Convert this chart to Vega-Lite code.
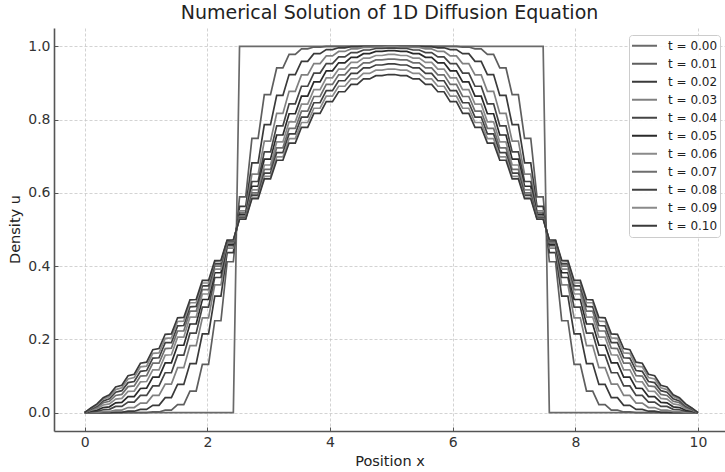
{
"$schema":"https://vega.github.io/schema/vega-lite/v6.json",
"width":671,"height":403,
"autosize":{"type":"none"},
"padding":{"left":54,"top":28,"right":0,"bottom":41},
"title":{"text":"Numerical Solution of 1D Diffusion Equation","anchor":"middle","fontSize":19,"font":"DejaVu Sans","fontWeight":"normal","color":"#222222","offset":5},
"data":{"values":[
{"x":0,"t00":0,"t01":0,"t02":0,"t03":0,"t04":0,"t05":0,"t06":0,"t07":0,"t08":0,"t09":0,"t10":0},
{"x":0.101,"t00":0,"t01":0,"t02":0,"t03":0.001,"t04":0.003,"t05":0.005,"t06":0.007,"t07":0.009,"t08":0.010,"t09":0.012,"t10":0.013},
{"x":0.202,"t00":0,"t01":0,"t02":0,"t03":0.001,"t04":0.004,"t05":0.007,"t06":0.011,"t07":0.015,"t08":0.018,"t09":0.021,"t10":0.024},
{"x":0.303,"t00":0,"t01":0,"t02":0,"t03":0.003,"t04":0.008,"t05":0.014,"t06":0.021,"t07":0.027,"t08":0.032,"t09":0.037,"t10":0.041},
{"x":0.404,"t00":0,"t01":0,"t02":0,"t03":0.003,"t04":0.009,"t05":0.016,"t06":0.024,"t07":0.031,"t08":0.038,"t09":0.044,"t10":0.049},
{"x":0.505,"t00":0,"t01":0,"t02":0.001,"t03":0.007,"t04":0.017,"t05":0.027,"t06":0.037,"t07":0.047,"t08":0.056,"t09":0.063,"t10":0.070},
{"x":0.606,"t00":0,"t01":0,"t02":0.001,"t03":0.007,"t04":0.017,"t05":0.028,"t06":0.039,"t07":0.050,"t08":0.060,"t09":0.068,"t10":0.075},
{"x":0.707,"t00":0,"t01":0,"t02":0.004,"t03":0.014,"t04":0.029,"t05":0.044,"t06":0.058,"t07":0.071,"t08":0.082,"t09":0.092,"t10":0.101},
{"x":0.808,"t00":0,"t01":0,"t02":0.004,"t03":0.014,"t04":0.029,"t05":0.044,"t06":0.059,"t07":0.073,"t08":0.085,"t09":0.096,"t10":0.105},
{"x":0.909,"t00":0,"t01":0,"t02":0.009,"t03":0.026,"t04":0.047,"t05":0.066,"t06":0.084,"t07":0.100,"t08":0.113,"t09":0.125,"t10":0.135},
{"x":1.010,"t00":0,"t01":0,"t02":0.009,"t03":0.026,"t04":0.047,"t05":0.067,"t06":0.085,"t07":0.101,"t08":0.115,"t09":0.127,"t10":0.138},
{"x":1.111,"t00":0,"t01":0.002,"t02":0.020,"t03":0.047,"t04":0.073,"t05":0.097,"t06":0.117,"t07":0.135,"t08":0.149,"t09":0.162,"t10":0.172},
{"x":1.212,"t00":0,"t01":0.002,"t02":0.020,"t03":0.047,"t04":0.073,"t05":0.097,"t06":0.117,"t07":0.135,"t08":0.150,"t09":0.163,"t10":0.175},
{"x":1.313,"t00":0,"t01":0.007,"t02":0.041,"t03":0.078,"t04":0.109,"t05":0.136,"t06":0.157,"t07":0.175,"t08":0.191,"t09":0.203,"t10":0.214},
{"x":1.414,"t00":0,"t01":0.007,"t02":0.041,"t03":0.078,"t04":0.109,"t05":0.136,"t06":0.158,"t07":0.176,"t08":0.191,"t09":0.204,"t10":0.215},
{"x":1.515,"t00":0,"t01":0.022,"t02":0.077,"t03":0.123,"t04":0.157,"t05":0.184,"t06":0.206,"t07":0.223,"t08":0.237,"t09":0.249,"t10":0.259},
{"x":1.616,"t00":0,"t01":0.022,"t02":0.077,"t03":0.123,"t04":0.157,"t05":0.184,"t06":0.206,"t07":0.223,"t08":0.238,"t09":0.250,"t10":0.260},
{"x":1.717,"t00":0,"t01":0.059,"t02":0.134,"t03":0.183,"t04":0.217,"t05":0.242,"t06":0.261,"t07":0.277,"t08":0.289,"t09":0.300,"t10":0.308},
{"x":1.818,"t00":0,"t01":0.059,"t02":0.134,"t03":0.183,"t04":0.217,"t05":0.242,"t06":0.261,"t07":0.277,"t08":0.290,"t09":0.300,"t10":0.309},
{"x":1.919,"t00":0,"t01":0.132,"t02":0.215,"t03":0.259,"t04":0.288,"t05":0.309,"t06":0.324,"t07":0.336,"t08":0.346,"t09":0.354,"t10":0.361},
{"x":2.020,"t00":0,"t01":0.132,"t02":0.215,"t03":0.259,"t04":0.288,"t05":0.309,"t06":0.324,"t07":0.336,"t08":0.346,"t09":0.354,"t10":0.361},
{"x":2.121,"t00":0,"t01":0.251,"t02":0.318,"t03":0.349,"t04":0.369,"t05":0.382,"t06":0.392,"t07":0.400,"t08":0.406,"t09":0.412,"t10":0.415},
{"x":2.222,"t00":0,"t01":0.251,"t02":0.318,"t03":0.349,"t04":0.369,"t05":0.382,"t06":0.392,"t07":0.400,"t08":0.406,"t09":0.412,"t10":0.416},
{"x":2.323,"t00":0,"t01":0.412,"t02":0.437,"t03":0.449,"t04":0.456,"t05":0.460,"t06":0.464,"t07":0.466,"t08":0.469,"t09":0.470,"t10":0.471},
{"x":2.424,"t00":0,"t01":0.412,"t02":0.437,"t03":0.449,"t04":0.456,"t05":0.460,"t06":0.464,"t07":0.466,"t08":0.469,"t09":0.470,"t10":0.472},
{"x":2.525,"t00":1,"t01":0.589,"t02":0.563,"t03":0.551,"t04":0.545,"t05":0.540,"t06":0.536,"t07":0.534,"t08":0.532,"t09":0.530,"t10":0.528},
{"x":2.626,"t00":1,"t01":0.589,"t02":0.563,"t03":0.551,"t04":0.545,"t05":0.540,"t06":0.536,"t07":0.534,"t08":0.532,"t09":0.530,"t10":0.528},
{"x":2.727,"t00":1,"t01":0.749,"t02":0.682,"t03":0.651,"t04":0.631,"t05":0.618,"t06":0.608,"t07":0.600,"t08":0.594,"t09":0.588,"t10":0.584},
{"x":2.828,"t00":1,"t01":0.749,"t02":0.682,"t03":0.651,"t04":0.631,"t05":0.618,"t06":0.608,"t07":0.600,"t08":0.594,"t09":0.588,"t10":0.584},
{"x":2.929,"t00":1,"t01":0.868,"t02":0.786,"t03":0.741,"t04":0.712,"t05":0.692,"t06":0.676,"t07":0.664,"t08":0.654,"t09":0.645,"t10":0.638},
{"x":3.030,"t00":1,"t01":0.868,"t02":0.786,"t03":0.741,"t04":0.712,"t05":0.692,"t06":0.676,"t07":0.664,"t08":0.654,"t09":0.645,"t10":0.638},
{"x":3.131,"t00":1,"t01":0.941,"t02":0.866,"t03":0.817,"t04":0.783,"t05":0.758,"t06":0.739,"t07":0.723,"t08":0.710,"t09":0.698,"t10":0.689},
{"x":3.232,"t00":1,"t01":0.941,"t02":0.866,"t03":0.817,"t04":0.783,"t05":0.758,"t06":0.739,"t07":0.723,"t08":0.710,"t09":0.698,"t10":0.689},
{"x":3.333,"t00":1,"t01":0.978,"t02":0.923,"t03":0.877,"t04":0.843,"t05":0.816,"t06":0.794,"t07":0.776,"t08":0.761,"t09":0.748,"t10":0.736},
{"x":3.434,"t00":1,"t01":0.978,"t02":0.923,"t03":0.877,"t04":0.843,"t05":0.816,"t06":0.794,"t07":0.776,"t08":0.761,"t09":0.748,"t10":0.736},
{"x":3.535,"t00":1,"t01":0.993,"t02":0.959,"t03":0.922,"t04":0.891,"t05":0.864,"t06":0.842,"t07":0.823,"t08":0.807,"t09":0.792,"t10":0.779},
{"x":3.636,"t00":1,"t01":0.993,"t02":0.959,"t03":0.922,"t04":0.891,"t05":0.864,"t06":0.842,"t07":0.823,"t08":0.807,"t09":0.792,"t10":0.779},
{"x":3.737,"t00":1,"t01":0.998,"t02":0.980,"t03":0.953,"t04":0.927,"t05":0.903,"t06":0.882,"t07":0.863,"t08":0.846,"t09":0.831,"t10":0.817},
{"x":3.838,"t00":1,"t01":0.998,"t02":0.980,"t03":0.953,"t04":0.927,"t05":0.903,"t06":0.882,"t07":0.863,"t08":0.846,"t09":0.831,"t10":0.817},
{"x":3.939,"t00":1,"t01":1,"t02":0.991,"t03":0.974,"t04":0.953,"t05":0.933,"t06":0.914,"t07":0.896,"t08":0.879,"t09":0.864,"t10":0.849},
{"x":4.040,"t00":1,"t01":1,"t02":0.991,"t03":0.974,"t04":0.953,"t05":0.933,"t06":0.914,"t07":0.896,"t08":0.879,"t09":0.864,"t10":0.849},
{"x":4.141,"t00":1,"t01":1,"t02":0.996,"t03":0.986,"t04":0.971,"t05":0.955,"t06":0.938,"t07":0.922,"t08":0.906,"t09":0.891,"t10":0.876},
{"x":4.242,"t00":1,"t01":1,"t02":0.996,"t03":0.986,"t04":0.971,"t05":0.955,"t06":0.938,"t07":0.922,"t08":0.906,"t09":0.891,"t10":0.876},
{"x":4.343,"t00":1,"t01":1,"t02":0.999,"t03":0.993,"t04":0.983,"t05":0.970,"t06":0.956,"t07":0.941,"t08":0.926,"t09":0.911,"t10":0.896},
{"x":4.444,"t00":1,"t01":1,"t02":0.999,"t03":0.993,"t04":0.983,"t05":0.970,"t06":0.956,"t07":0.941,"t08":0.926,"t09":0.911,"t10":0.896},
{"x":4.545,"t00":1,"t01":1,"t02":1,"t03":0.997,"t04":0.990,"t05":0.980,"t06":0.968,"t07":0.955,"t08":0.941,"t09":0.926,"t10":0.911},
{"x":4.646,"t00":1,"t01":1,"t02":1,"t03":0.997,"t04":0.990,"t05":0.980,"t06":0.968,"t07":0.955,"t08":0.941,"t09":0.926,"t10":0.911},
{"x":4.747,"t00":1,"t01":1,"t02":1,"t03":0.998,"t04":0.994,"t05":0.986,"t06":0.975,"t07":0.963,"t08":0.949,"t09":0.935,"t10":0.920},
{"x":4.848,"t00":1,"t01":1,"t02":1,"t03":0.998,"t04":0.994,"t05":0.986,"t06":0.975,"t07":0.963,"t08":0.949,"t09":0.935,"t10":0.920},
{"x":4.949,"t00":1,"t01":1,"t02":1,"t03":0.999,"t04":0.995,"t05":0.988,"t06":0.978,"t07":0.965,"t08":0.952,"t09":0.938,"t10":0.923},
{"x":5.051,"t00":1,"t01":1,"t02":1,"t03":0.999,"t04":0.995,"t05":0.988,"t06":0.978,"t07":0.965,"t08":0.952,"t09":0.938,"t10":0.923},
{"x":5.152,"t00":1,"t01":1,"t02":1,"t03":0.998,"t04":0.994,"t05":0.986,"t06":0.975,"t07":0.963,"t08":0.949,"t09":0.935,"t10":0.920},
{"x":5.253,"t00":1,"t01":1,"t02":1,"t03":0.998,"t04":0.994,"t05":0.986,"t06":0.975,"t07":0.963,"t08":0.949,"t09":0.935,"t10":0.920},
{"x":5.354,"t00":1,"t01":1,"t02":1,"t03":0.997,"t04":0.990,"t05":0.980,"t06":0.968,"t07":0.955,"t08":0.941,"t09":0.926,"t10":0.911},
{"x":5.455,"t00":1,"t01":1,"t02":1,"t03":0.997,"t04":0.990,"t05":0.980,"t06":0.968,"t07":0.955,"t08":0.941,"t09":0.926,"t10":0.911},
{"x":5.556,"t00":1,"t01":1,"t02":0.999,"t03":0.993,"t04":0.983,"t05":0.970,"t06":0.956,"t07":0.941,"t08":0.926,"t09":0.911,"t10":0.896},
{"x":5.657,"t00":1,"t01":1,"t02":0.999,"t03":0.993,"t04":0.983,"t05":0.970,"t06":0.956,"t07":0.941,"t08":0.926,"t09":0.911,"t10":0.896},
{"x":5.758,"t00":1,"t01":1,"t02":0.996,"t03":0.986,"t04":0.971,"t05":0.955,"t06":0.938,"t07":0.922,"t08":0.906,"t09":0.891,"t10":0.876},
{"x":5.859,"t00":1,"t01":1,"t02":0.996,"t03":0.986,"t04":0.971,"t05":0.955,"t06":0.938,"t07":0.922,"t08":0.906,"t09":0.891,"t10":0.876},
{"x":5.960,"t00":1,"t01":1,"t02":0.991,"t03":0.974,"t04":0.953,"t05":0.933,"t06":0.914,"t07":0.896,"t08":0.879,"t09":0.864,"t10":0.849},
{"x":6.061,"t00":1,"t01":1,"t02":0.991,"t03":0.974,"t04":0.953,"t05":0.933,"t06":0.914,"t07":0.896,"t08":0.879,"t09":0.864,"t10":0.849},
{"x":6.162,"t00":1,"t01":0.998,"t02":0.980,"t03":0.953,"t04":0.927,"t05":0.903,"t06":0.882,"t07":0.863,"t08":0.846,"t09":0.831,"t10":0.817},
{"x":6.263,"t00":1,"t01":0.998,"t02":0.980,"t03":0.953,"t04":0.927,"t05":0.903,"t06":0.882,"t07":0.863,"t08":0.846,"t09":0.831,"t10":0.817},
{"x":6.364,"t00":1,"t01":0.993,"t02":0.959,"t03":0.922,"t04":0.891,"t05":0.864,"t06":0.842,"t07":0.823,"t08":0.807,"t09":0.792,"t10":0.779},
{"x":6.465,"t00":1,"t01":0.993,"t02":0.959,"t03":0.922,"t04":0.891,"t05":0.864,"t06":0.842,"t07":0.823,"t08":0.807,"t09":0.792,"t10":0.779},
{"x":6.566,"t00":1,"t01":0.978,"t02":0.923,"t03":0.877,"t04":0.843,"t05":0.816,"t06":0.794,"t07":0.776,"t08":0.761,"t09":0.748,"t10":0.736},
{"x":6.667,"t00":1,"t01":0.978,"t02":0.923,"t03":0.877,"t04":0.843,"t05":0.816,"t06":0.794,"t07":0.776,"t08":0.761,"t09":0.748,"t10":0.736},
{"x":6.768,"t00":1,"t01":0.941,"t02":0.866,"t03":0.817,"t04":0.783,"t05":0.758,"t06":0.739,"t07":0.723,"t08":0.710,"t09":0.698,"t10":0.689},
{"x":6.869,"t00":1,"t01":0.941,"t02":0.866,"t03":0.817,"t04":0.783,"t05":0.758,"t06":0.739,"t07":0.723,"t08":0.710,"t09":0.698,"t10":0.689},
{"x":6.970,"t00":1,"t01":0.868,"t02":0.786,"t03":0.741,"t04":0.712,"t05":0.692,"t06":0.676,"t07":0.664,"t08":0.654,"t09":0.645,"t10":0.638},
{"x":7.071,"t00":1,"t01":0.868,"t02":0.786,"t03":0.741,"t04":0.712,"t05":0.692,"t06":0.676,"t07":0.664,"t08":0.654,"t09":0.645,"t10":0.638},
{"x":7.172,"t00":1,"t01":0.749,"t02":0.682,"t03":0.651,"t04":0.631,"t05":0.618,"t06":0.608,"t07":0.600,"t08":0.594,"t09":0.588,"t10":0.584},
{"x":7.273,"t00":1,"t01":0.749,"t02":0.682,"t03":0.651,"t04":0.631,"t05":0.618,"t06":0.608,"t07":0.600,"t08":0.594,"t09":0.588,"t10":0.584},
{"x":7.374,"t00":1,"t01":0.589,"t02":0.563,"t03":0.551,"t04":0.545,"t05":0.540,"t06":0.536,"t07":0.534,"t08":0.532,"t09":0.530,"t10":0.528},
{"x":7.475,"t00":1,"t01":0.589,"t02":0.563,"t03":0.551,"t04":0.545,"t05":0.540,"t06":0.536,"t07":0.534,"t08":0.532,"t09":0.530,"t10":0.528},
{"x":7.576,"t00":0,"t01":0.412,"t02":0.437,"t03":0.449,"t04":0.456,"t05":0.460,"t06":0.464,"t07":0.466,"t08":0.469,"t09":0.470,"t10":0.472},
{"x":7.677,"t00":0,"t01":0.412,"t02":0.437,"t03":0.449,"t04":0.456,"t05":0.460,"t06":0.464,"t07":0.466,"t08":0.469,"t09":0.470,"t10":0.471},
{"x":7.778,"t00":0,"t01":0.251,"t02":0.318,"t03":0.349,"t04":0.369,"t05":0.382,"t06":0.392,"t07":0.400,"t08":0.406,"t09":0.412,"t10":0.416},
{"x":7.879,"t00":0,"t01":0.251,"t02":0.318,"t03":0.349,"t04":0.369,"t05":0.382,"t06":0.392,"t07":0.400,"t08":0.406,"t09":0.412,"t10":0.415},
{"x":7.980,"t00":0,"t01":0.132,"t02":0.215,"t03":0.259,"t04":0.288,"t05":0.309,"t06":0.324,"t07":0.336,"t08":0.346,"t09":0.354,"t10":0.361},
{"x":8.081,"t00":0,"t01":0.132,"t02":0.215,"t03":0.259,"t04":0.288,"t05":0.309,"t06":0.324,"t07":0.336,"t08":0.346,"t09":0.354,"t10":0.361},
{"x":8.182,"t00":0,"t01":0.059,"t02":0.134,"t03":0.183,"t04":0.217,"t05":0.242,"t06":0.261,"t07":0.277,"t08":0.290,"t09":0.300,"t10":0.309},
{"x":8.283,"t00":0,"t01":0.059,"t02":0.134,"t03":0.183,"t04":0.217,"t05":0.242,"t06":0.261,"t07":0.277,"t08":0.289,"t09":0.300,"t10":0.308},
{"x":8.384,"t00":0,"t01":0.022,"t02":0.077,"t03":0.123,"t04":0.157,"t05":0.184,"t06":0.206,"t07":0.223,"t08":0.238,"t09":0.250,"t10":0.260},
{"x":8.485,"t00":0,"t01":0.022,"t02":0.077,"t03":0.123,"t04":0.157,"t05":0.184,"t06":0.206,"t07":0.223,"t08":0.237,"t09":0.249,"t10":0.259},
{"x":8.586,"t00":0,"t01":0.007,"t02":0.041,"t03":0.078,"t04":0.109,"t05":0.136,"t06":0.158,"t07":0.176,"t08":0.191,"t09":0.204,"t10":0.215},
{"x":8.687,"t00":0,"t01":0.007,"t02":0.041,"t03":0.078,"t04":0.109,"t05":0.136,"t06":0.157,"t07":0.175,"t08":0.191,"t09":0.203,"t10":0.214},
{"x":8.788,"t00":0,"t01":0.002,"t02":0.020,"t03":0.047,"t04":0.073,"t05":0.097,"t06":0.117,"t07":0.135,"t08":0.150,"t09":0.163,"t10":0.175},
{"x":8.889,"t00":0,"t01":0.002,"t02":0.020,"t03":0.047,"t04":0.073,"t05":0.097,"t06":0.117,"t07":0.135,"t08":0.149,"t09":0.162,"t10":0.172},
{"x":8.990,"t00":0,"t01":0,"t02":0.009,"t03":0.026,"t04":0.047,"t05":0.067,"t06":0.085,"t07":0.101,"t08":0.115,"t09":0.127,"t10":0.138},
{"x":9.091,"t00":0,"t01":0,"t02":0.009,"t03":0.026,"t04":0.047,"t05":0.066,"t06":0.084,"t07":0.100,"t08":0.113,"t09":0.125,"t10":0.135},
{"x":9.192,"t00":0,"t01":0,"t02":0.004,"t03":0.014,"t04":0.029,"t05":0.044,"t06":0.059,"t07":0.073,"t08":0.085,"t09":0.096,"t10":0.105},
{"x":9.293,"t00":0,"t01":0,"t02":0.004,"t03":0.014,"t04":0.029,"t05":0.044,"t06":0.058,"t07":0.071,"t08":0.082,"t09":0.092,"t10":0.101},
{"x":9.394,"t00":0,"t01":0,"t02":0.001,"t03":0.007,"t04":0.017,"t05":0.028,"t06":0.039,"t07":0.050,"t08":0.060,"t09":0.068,"t10":0.075},
{"x":9.495,"t00":0,"t01":0,"t02":0.001,"t03":0.007,"t04":0.017,"t05":0.027,"t06":0.037,"t07":0.047,"t08":0.056,"t09":0.063,"t10":0.070},
{"x":9.596,"t00":0,"t01":0,"t02":0,"t03":0.003,"t04":0.009,"t05":0.016,"t06":0.024,"t07":0.031,"t08":0.038,"t09":0.044,"t10":0.049},
{"x":9.697,"t00":0,"t01":0,"t02":0,"t03":0.003,"t04":0.008,"t05":0.014,"t06":0.021,"t07":0.027,"t08":0.032,"t09":0.037,"t10":0.041},
{"x":9.798,"t00":0,"t01":0,"t02":0,"t03":0.001,"t04":0.004,"t05":0.007,"t06":0.011,"t07":0.015,"t08":0.018,"t09":0.021,"t10":0.024},
{"x":9.899,"t00":0,"t01":0,"t02":0,"t03":0.001,"t04":0.003,"t05":0.005,"t06":0.007,"t07":0.009,"t08":0.010,"t09":0.012,"t10":0.013},
{"x":10,"t00":0,"t01":0,"t02":0,"t03":0,"t04":0,"t05":0,"t06":0,"t07":0,"t08":0,"t09":0,"t10":0}
]},
"transform":[{"fold":["t00","t01","t02","t03","t04","t05","t06","t07","t08","t09","t10"],"as":["t","u"]}],
"mark":{"type":"line","strokeWidth":1.7,"clip":true},
"encoding":{
"x":{"field":"x","type":"quantitative","scale":{"domain":[-0.5,10.44],"nice":false,"zero":false},
"axis":{"values":[0,2,4,6,8,10],"format":"d","title":"Position x","titleY":30,"titleBaseline":"middle"}},
"y":{"field":"u","type":"quantitative","scale":{"domain":[-0.05,1.05],"nice":false,"zero":false},
"axis":{"values":[0,0.2,0.4,0.6,0.8,1.0],"format":".1f","title":"Density u","titleX":-39,"titleY":201,"titleBaseline":"middle","titleAngle":-90}},
"color":{"field":"t","type":"nominal",
"scale":{"domain":["t00","t01","t02","t03","t04","t05","t06","t07","t08","t09","t10"],
"range":["#6a6a6a","#5e5e5e","#3a3a3a","#808080","#454545","#2a2a2a","#8a8a8a","#6e6e6e","#404040","#8a8a8a","#3a3a3a"]},
"legend":{"title":null,"orient":"none","legendX":575,"legendY":7,"labelExpr":"'t = 0.' + slice(datum.label,1)"}}
},
"config":{
"font":"DejaVu Sans",
"view":{"stroke":null},
"axis":{"labelFont":"DejaVu Sans","labelFontSize":14,"labelColor":"#333333","titleFont":"DejaVu Sans","titleFontSize":14.5,"titleFontWeight":"normal","titleColor":"#222222",
"domainColor":"#555555","domainWidth":1.6,"tickColor":"#555555","tickSize":-4,"tickWidth":1,
"grid":true,"gridColor":"#c8c8c8","gridDash":[3,2],"gridWidth":0.8,"labelPadding":8},
"legend":{"labelFont":"DejaVu Sans","labelFontSize":12,"labelColor":"#222222","symbolType":"stroke","symbolSize":625,"symbolStrokeWidth":2,
"clipHeight":17.3,"rowPadding":0,"padding":2,"labelOffset":10,"fillColor":"rgba(255,255,255,0.85)","strokeColor":"#cccccc","cornerRadius":3}
}
}
